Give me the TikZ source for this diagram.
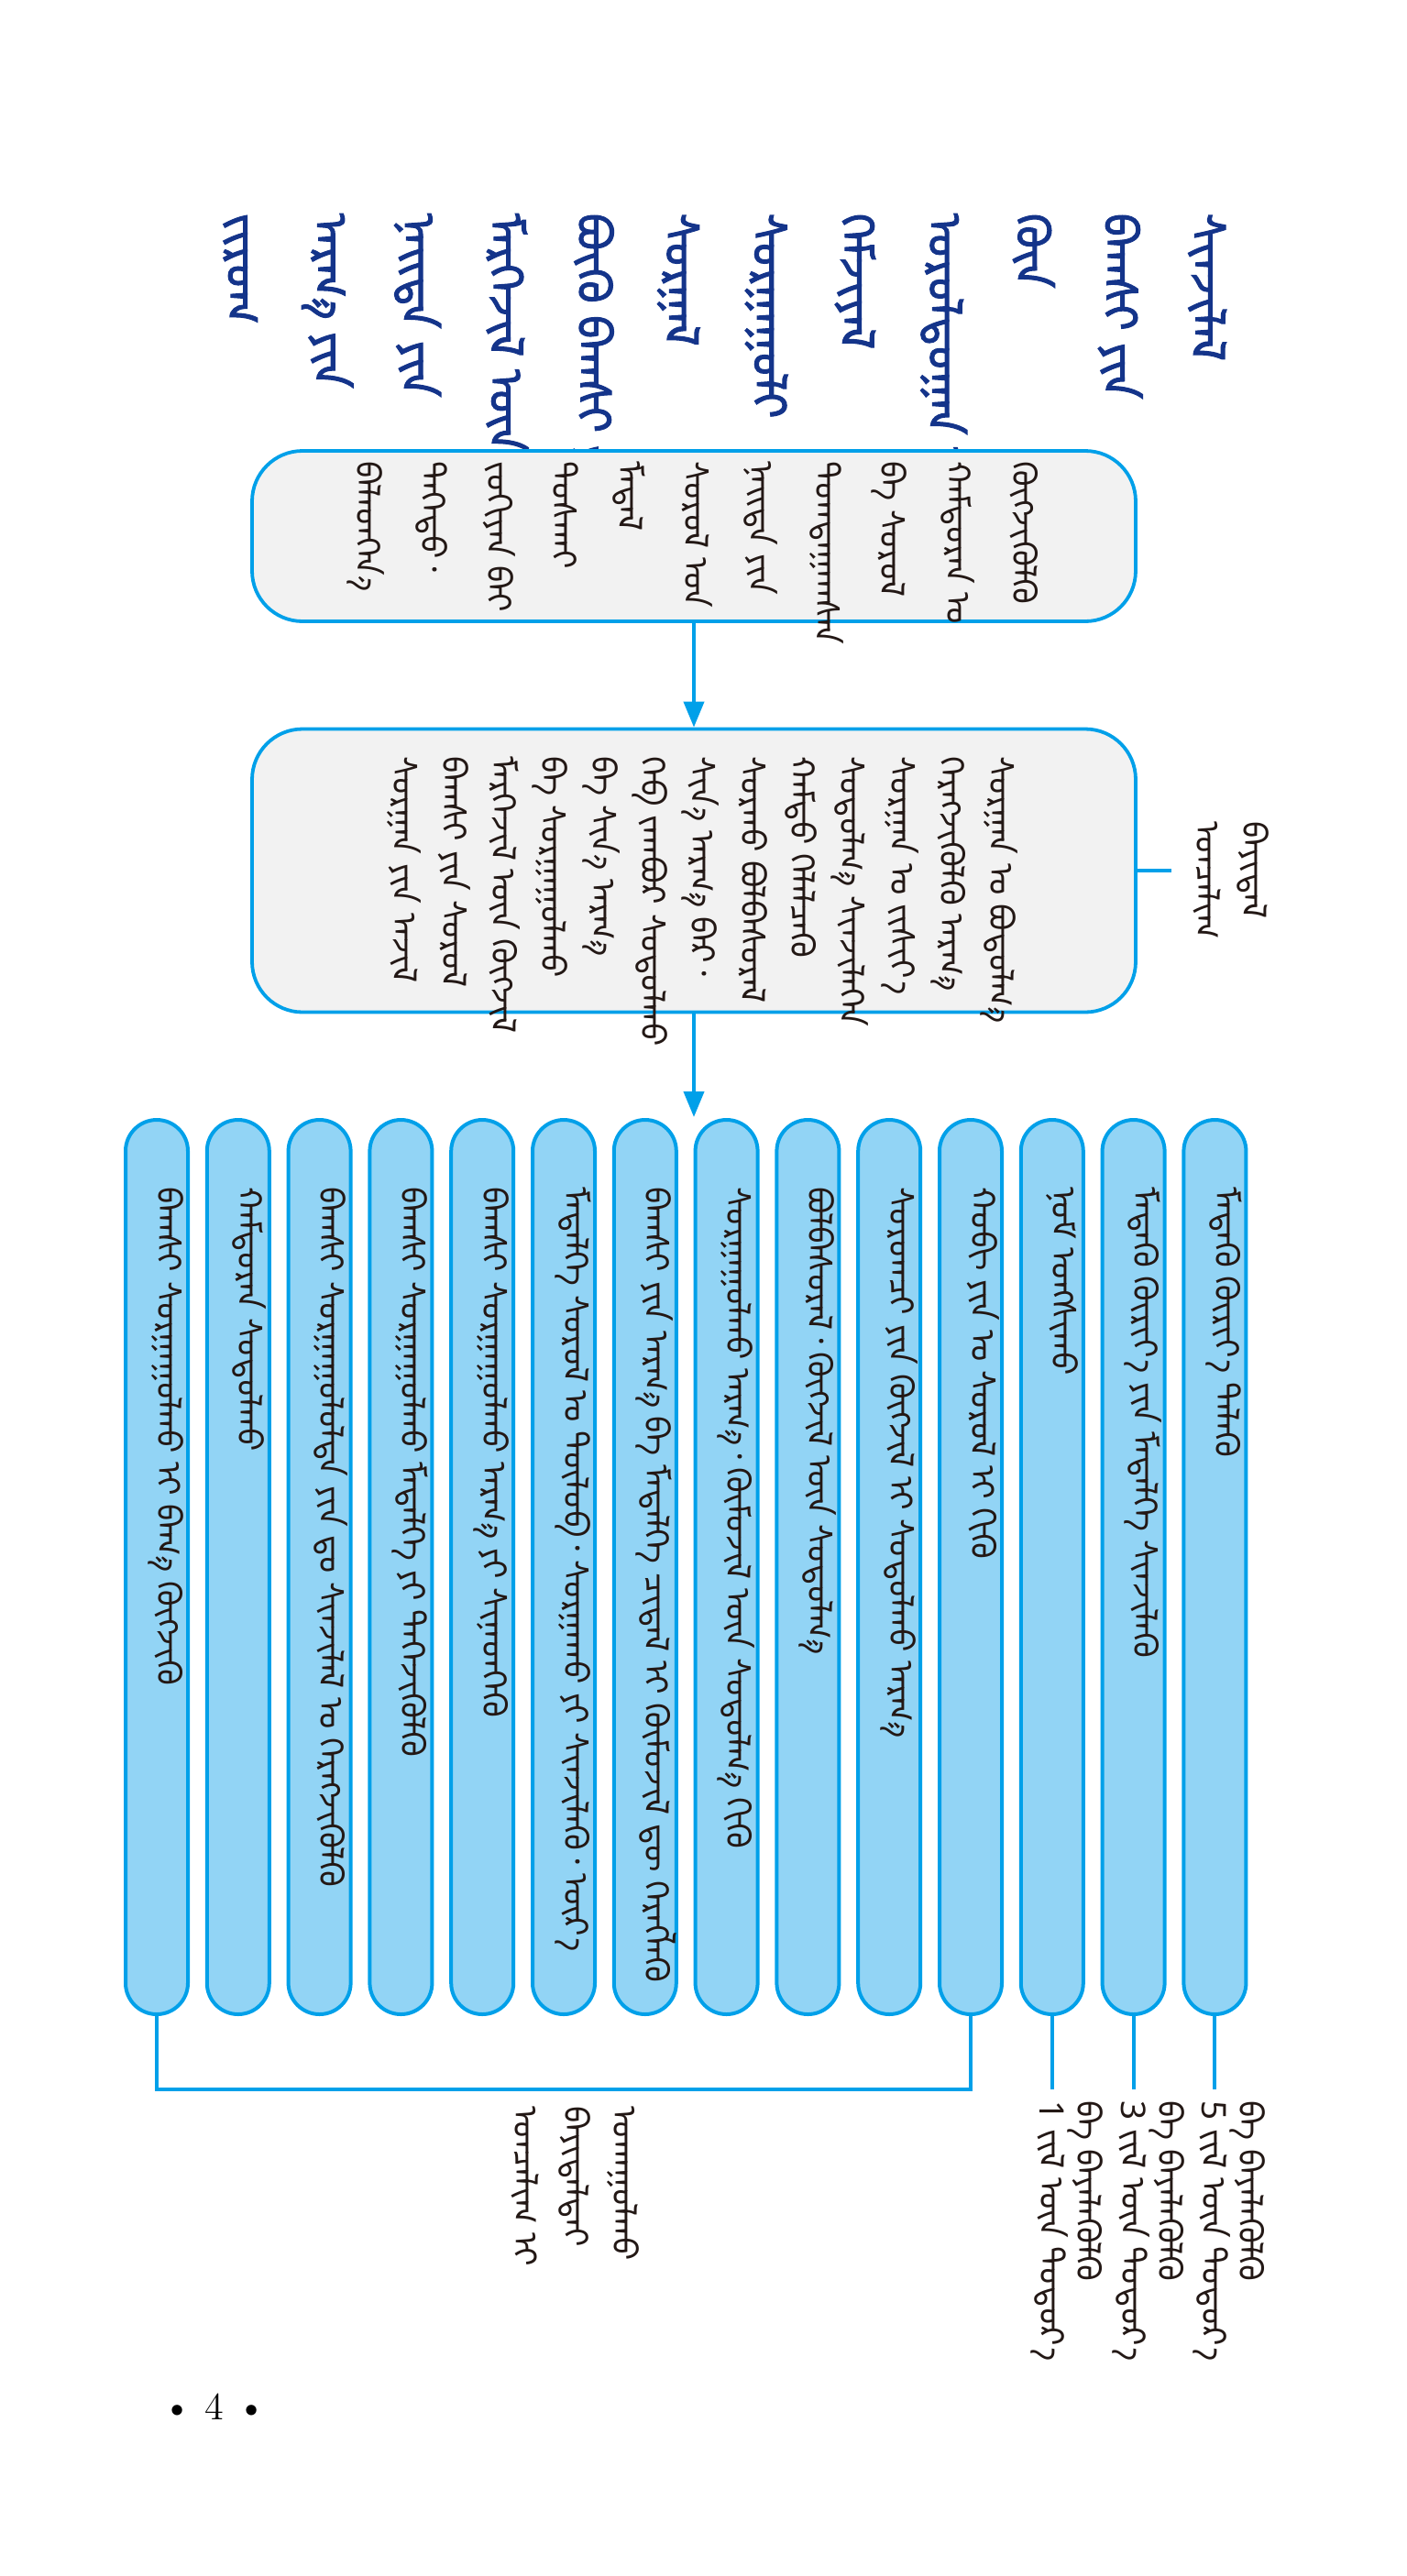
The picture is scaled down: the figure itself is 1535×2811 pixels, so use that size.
\documentclass[tikz,border=0pt]{standalone}
\usepackage{fontspec}
\usetikzlibrary{arrows.meta}
\IfFontExistsTF{Noto Sans Mongolian}{%
  \newfontfamily\mongfont[Script=Mongolian]{Noto Sans Mongolian}%
  \newfontfamily\mongtitlefont[Script=Mongolian,FakeBold=2]{Noto Sans Mongolian}%
}{%
  \newfontfamily\mongfont{DejaVu Sans}%
  \newfontfamily\mongtitlefont[FakeBold=2]{DejaVu Sans}%
}
\definecolor{titleblue}{RGB}{20,52,138}
\definecolor{lineblue}{RGB}{0,160,233}
\definecolor{boxgray}{RGB}{242,242,242}
\definecolor{colblue}{RGB}{146,212,245}
\definecolor{inkblack}{RGB}{35,24,21}
\tikzset{
  vtext/.style={rotate=-90, anchor=base west, inner sep=0pt, text=inkblack,
    font=\mongfont\fontsize{10.5}{10.5}\selectfont},
  vtitle/.style={vtext, text=titleblue, font=\mongtitlefont\fontsize{14.5}{14.5}\selectfont},
  roundbox/.style={draw=lineblue, fill=boxgray, line width=0.38mm, rounded corners=5.5mm,
    minimum width=96.4mm, inner sep=0pt},
  colbox/.style={draw=lineblue, fill=colblue, line width=0.4mm, rounded corners=3.4mm,
    minimum width=6.8mm, minimum height=97.6mm, inner sep=0pt},
  link/.style={draw=lineblue, line width=0.4mm},
  flow/.style={link, -{Triangle[length=2.8mm,width=2.2mm]}}
}
\begin{document}
\begin{tikzpicture}[x=0.1mm, y=-0.1mm]
\useasboundingbox (0,0) rectangle (1535,2811);
% title
\foreach \txt [count=\i from 0] in {{ᠵᠢᠷᠤᠭ}, {ᠠᠷᠭ᠎ᠠ ᠶᠢᠨ}, {ᠨᠡᠢᠲᠡ ᠶᠢᠨ}, {ᠮᠡᠷᠭᠡᠵᠢᠯ ᠦᠨ},
    {ᠪᠦᠬᠦ ᠪᠠᠭᠰᠢ ᠶᠢ}, {ᠰᠤᠷᠭᠠᠯ}, {ᠰᠤᠷᠭᠠᠭᠤᠯᠢ}, {ᠬᠡᠮᠵᠢᠶᠡᠯ},
    {ᠤᠷᠤᠯᠳᠤᠭᠠᠨ ᠤ}, {ᠬᠦᠨ}, {ᠪᠠᠭᠰᠢ ᠶᠢᠨ}, {ᠰᠢᠨᠵᠢᠯᠡᠯ}}
  \node[vtitle] at ({247+95.7*\i},232) {\txt};
% boxes
\node[roundbox, minimum height=18.6mm] (goal) at (757,585) {};
\node[roundbox, minimum height=30.9mm] (content) at (757,950) {};
\draw[flow] (goal) -- (content);
\foreach \txt [count=\i from 0] in {{ᠪᠡᠯᠡᠳᠬᠡᠨ᠎ᠡ}, {ᠳᠡᠭᠡᠳᠦ᠂}, {ᠵᠣᠬᠢᠶᠠᠨ ᠪᠠᠢ}, {ᠲᠤᠰᠬᠠᠢ},
    {ᠮᠡᠳᠡᠯ}, {ᠰᠤᠷᠤᠯ ᠤᠨ}, {ᠨᠡᠢᠲᠡ ᠶᠢᠨ}, {ᠲᠣᠭᠲᠠᠭᠠᠭᠰᠠᠨ},
    {ᠪᠠ ᠰᠤᠷᠤᠯ}, {ᠬᠠᠮᠲᠤᠷᠠᠨ ᠤ}, {ᠬᠥᠭᠵᠢᠭᠦᠯᠬᠦ}}
  \node[vtext] at ({388+71.6*\i},503) {\txt};
\foreach \txt [count=\i from 0] in {{ᠰᠤᠷᠭᠠᠨ ᠶᠢᠨ ᠠᠵᠢᠯ}, {ᠪᠠᠭᠰᠢ ᠶᠢᠨ ᠰᠤᠷᠤᠯ},
    {ᠮᠡᠷᠭᠡᠵᠢᠯ ᠦᠨ ᠬᠥᠭᠵᠢᠯ}, {ᠪᠠ ᠰᠤᠷᠭᠠᠭᠤᠯᠬᠤ}, {ᠪᠠ ᠰᠢᠨ᠎ᠡ ᠠᠷᠭ᠎ᠠ},
    {ᠬᠡᠪ ᠵᠠᠭᠪᠤᠷ ᠰᠤᠳᠤᠯᠬᠤ}, {ᠰᠢᠨ᠎ᠡ ᠠᠷᠭ᠎ᠠ ᠪᠠᠷ᠂}, {ᠰᠤᠷᠬᠤ ᠪᠣᠯᠪᠠᠰᠤᠷᠠᠯ},
    {ᠬᠠᠮᠲᠤ ᠬᠡᠯᠡᠯᠴᠡᠬᠦ}, {ᠰᠤᠳᠤᠯᠭ᠎ᠠ ᠰᠢᠨᠵᠢᠯᠡᠭᠡᠨ}, {ᠰᠤᠷᠭᠠᠨ ᠤ ᠵᠢᠱᠢᠶ᠎ᠡ},
    {ᠬᠡᠷᠡᠭᠵᠢᠭᠦᠯᠬᠦ ᠠᠷᠭ᠎ᠠ}, {ᠰᠤᠷᠭᠠᠨ ᠤ ᠪᠣᠳᠣᠯᠭ᠎ᠠ}}
  \node[vtext] at ({428+54.3*\i},825) {\txt};
% side label
\coordinate (sidetip) at (1278,950);
\draw[link] (content.east) -- (sidetip);
\node[vtext] at (1304,896) {ᠣᠨᠴᠠᠯᠢᠭ};
\node[vtext] at (1355,896) {ᠪᠠᠶᠢᠳᠠᠯ};
% items
\foreach \txt [count=\i] in {{ᠪᠠᠭᠰᠢ ᠰᠤᠷᠭᠠᠭᠤᠯᠬᠤ ᠢ ᠪᠠᠭ᠎ᠠ ᠬᠥᠭᠵᠢᠬᠦ}, {ᠬᠠᠮᠲᠤᠷᠠᠨ ᠰᠤᠳᠤᠯᠬᠤ},
    {ᠪᠠᠭᠰᠢ ᠰᠤᠷᠭᠠᠭᠤᠯᠤᠯᠲᠠ ᠶᠢᠨ ᠳᠤ ᠰᠢᠨᠵᠢᠯᠡᠯ ᠤ ᠬᠡᠷᠡᠭᠵᠢᠭᠦᠯᠬᠦ},
    {ᠪᠠᠭᠰᠢ ᠰᠤᠷᠭᠠᠭᠤᠯᠬᠤ ᠮᠡᠳᠡᠯᠭᠡ ᠶᠢ ᠳᠡᠭᠡᠵᠢᠭᠦᠯᠬᠦ},
    {ᠪᠠᠭᠰᠢ ᠰᠤᠷᠭᠠᠭᠤᠯᠬᠤ ᠠᠷᠭ᠎ᠠ ᠶᠢ ᠰᠢᠨᠡᠳᠬᠡᠬᠦ},
    {ᠮᠡᠳᠡᠯᠭᠡ ᠰᠤᠷᠤᠯ ᠤ ᠲᠥᠯᠦᠪ᠂ ᠰᠤᠷᠭᠠᠬᠤ ᠶᠢ ᠰᠢᠨᠵᠢᠯᠡᠬᠦ᠂ ᠦᠷ᠎ᠡ},
    {ᠪᠠᠭᠰᠢ ᠶᠢᠨ ᠠᠷᠭ᠎ᠠ ᠪᠠ ᠮᠡᠳᠡᠯᠭᠡ ᠴᠢᠳᠠᠯ ᠢ ᠬᠦᠮᠦᠵᠢᠯ ᠳᠦ ᠬᠡᠷᠡᠭᠯᠡᠬᠦ},
    {ᠰᠤᠷᠭᠠᠭᠤᠯᠬᠤ ᠠᠷᠭ᠎ᠠ᠂ ᠬᠦᠮᠦᠵᠢᠯ ᠦᠨ ᠰᠤᠳᠤᠯᠭ᠎ᠠ ᠬᠢᠬᠦ},
    {ᠪᠣᠯᠪᠠᠰᠤᠷᠠᠯ᠂ ᠬᠥᠭᠵᠢᠯ ᠦᠨ ᠰᠤᠳᠤᠯᠭ᠎ᠠ},
    {ᠰᠤᠷᠤᠭᠴᠢ ᠶᠢᠨ ᠬᠥᠭᠵᠢᠯ ᠢ ᠰᠤᠳᠤᠯᠬᠤ ᠠᠷᠭ᠎ᠠ},
    {ᠬᠤᠪᠢ ᠶᠢᠨ ᠤ ᠰᠤᠷᠤᠯ ᠢ ᠬᠢᠬᠦ},
    {ᠨᠣᠮ ᠤᠩᠰᠢᠬᠤ}, {ᠮᠡᠳᠡᠬᠦ ᠬᠦᠷᠢᠶ᠎ᠡ ᠶᠢᠨ ᠮᠡᠳᠡᠯᠭᠡ ᠰᠢᠨᠵᠢᠯᠡᠬᠦ},
    {ᠮᠡᠳᠡᠬᠦ ᠬᠦᠷᠢᠶ᠎ᠡ ᠲᠡᠯᠡᠬᠦ}} {
  \node[colbox] (c\i) at ({171+88.8*(\i-1)},1710) {};
  \node[vtext] at ({171+88.8*(\i-1)},1295) {\txt};
}
\coordinate (itemtop) at (757,1219);
\draw[flow] (content) -- (itemtop);
% grade links
\coordinate (foot) at (0,2280);
\foreach \k in {12,13,14}
  \draw[link] (c\k.south) -- (c\k.south |- foot);
\draw[link] (c1.south) |- (c11.south |- foot) -- (c11.south);
\foreach \x/\n in {1149/1, 1238/3, 1326/5} {
  \node[vtext] at ({\x-15},2292) {\n\ ᠵᠢᠯ ᠦᠨ ᠳᠣᠲᠣᠷ᠎ᠠ};
  \node[vtext] at ({\x+25},2292) {ᠪᠠ ᠪᠡᠶᠡᠯᠡᠭᠦᠯᠬᠦ};
}
\node[vtext] at (560,2298) {ᠣᠨᠴᠠᠯᠢᠭ ᠢ};
\node[vtext] at (615,2298) {ᠪᠠᠶᠢᠳᠠᠯᠲᠠᠢ};
\node[vtext] at (668,2298) {ᠤᠬᠠᠭᠤᠯᠬᠤ};
% page number
\node[font=\fontsize{12}{12}\selectfont, inner sep=0pt] (pageno) at (234,2626)
  {\textbullet\hspace{4pt}4\hspace{4pt}\textbullet};
\end{tikzpicture}
\end{document}
